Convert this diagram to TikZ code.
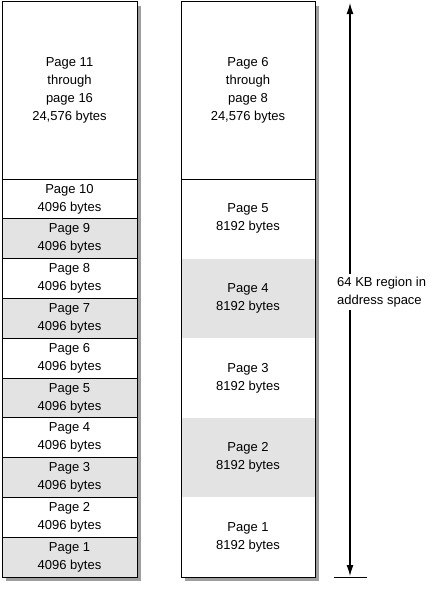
\documentclass[tikz,border=0pt]{standalone}
\usepackage{fontspec}
\setmainfont{Liberation Sans}
\usetikzlibrary{arrows.meta}
\definecolor{cellgray}{gray}{0.89}
\definecolor{shadowgray}{gray}{0.62}
\begin{document}
\begin{tikzpicture}[x=1pt,y=-1pt,font=\fontsize{13}{18}\selectfont,
  cell/.style={align=center,inner sep=0pt,line width=0.8pt},
  leftcell/.style={cell,draw,minimum width=135pt,minimum height=39.8pt},
  rightcell/.style={cell,minimum width=133pt,minimum height=79.6pt}]
  \useasboundingbox (0,0) rectangle (447,590);
  % shadows behind the two columns
  \fill[shadowgray] (6,6) rectangle (141,581);
  \fill[shadowgray] (185,6) rectangle (319,581);
  % left column: 4 KB pages
  \node[leftcell,fill=white,minimum height=177.5pt] (ltop) at (69.5,90.25) {Page 11\\through\\page 16\\24,576 bytes};
  \foreach \pg/\col [count=\k from 0] in {10/white,9/cellgray,8/white,7/cellgray,6/white,5/cellgray,4/white,3/cellgray,2/white,1/cellgray}
    \node[leftcell,fill=\col] (l\pg) at (69.5,{179+39.8*(\k+0.5)}) {Page \pg\\4096 bytes};
  % right column: 8 KB pages
  \node[rightcell,fill=white,minimum height=177.5pt] (rtop) at (248,90.25) {Page 6\\through\\page 8\\24,576 bytes};
  \foreach \pg/\col [count=\k from 0] in {5/white,4/cellgray,3/white,2/cellgray,1/white}
    \node[rightcell,fill=\col] (r\pg) at (248,{179+79.6*(\k+0.5)}) {Page \pg\\8192 bytes};
  \draw[line width=0.8pt] (rtop.north west) rectangle (r1.south east);
  \draw[line width=0.8pt] (rtop.south west) -- (rtop.south east);
  % size of the region
  \coordinate (atop) at (350,3);
  \coordinate (abot) at (350,576);
  \coordinate (tickl) at (334,577);
  \coordinate (tickr) at (367,577);
  \draw[line width=1.2pt,{Latex[length=11pt,width=7pt]}-{Latex[length=11pt,width=7pt]}] (abot) -- (atop);
  \draw[line width=0.8pt] (tickl) -- (tickr);
  \node[fill=white,align=left,anchor=west,inner sep=3pt] (region) at (334,292) {64 KB region in\\address space};
\end{tikzpicture}
\end{document}
